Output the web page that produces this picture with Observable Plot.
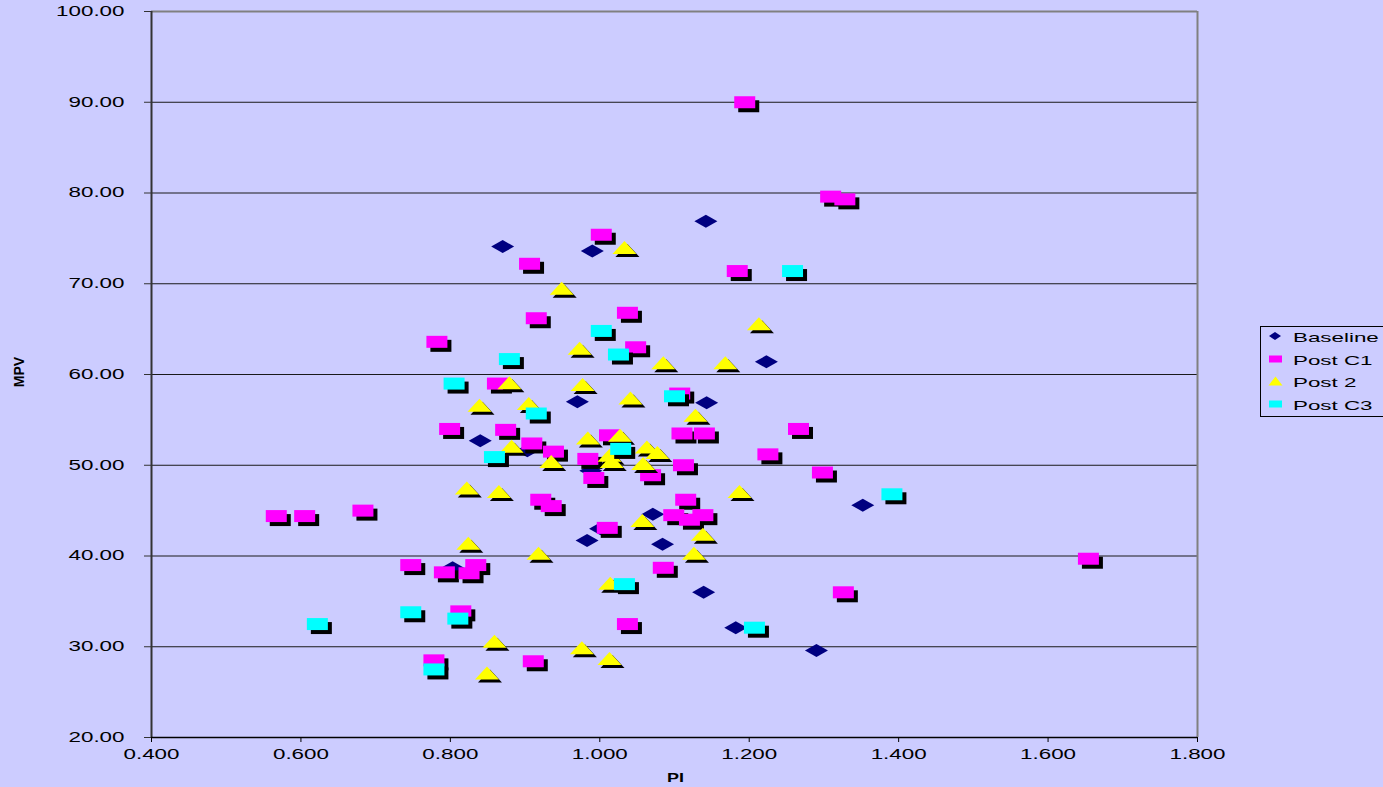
<!DOCTYPE html>
<html>
<head>
<meta charset="utf-8">
<script src="https://cdn.jsdelivr.net/npm/d3@7"></script>
<script src="https://cdn.jsdelivr.net/npm/@observablehq/plot@0.6"></script>
<style>
  html, body { margin: 0; padding: 0; background: #CCCCFF; overflow: hidden; }
  #wrap { position: relative; width: 1383px; height: 787px; font-family: "Liberation Sans", Arial, sans-serif; }
  #legend { position: absolute; left: 1260px; top: 326px; width: 160px; height: 91px; border: 1px solid #000; box-sizing: border-box; background: #CCCCFF; }
  .lrow { position: absolute; left: 0; height: 20px; width: 160px; }
  .lrow svg { position: absolute; left: 7px; top: 2px; }
  .lrow span { position: absolute; left: 32px; top: 1px; font-size: 13px; line-height: 18px; color: #000; transform: scaleX(1.72); transform-origin: left center; white-space: nowrap; }
  .atitle { position: absolute; font-weight: bold; color: #000; white-space: nowrap; }
</style>
</head>
<body>
<div id="wrap">
  <div id="chart"></div>
  <div id="legend"></div>
  <div class="atitle" id="xtitle" style="left:667px; top:771px; font-size:12px; transform:scaleX(1.5); transform-origin:left top;">PI</div>
  <div class="atitle" id="ytitle" style="left:-1px; top:364px; font-size:14px; line-height:16px; transform:rotate(-90deg) scaleY(1.1); transform-origin:center center; width:38px; text-align:center;">MPV</div>
</div>
<script>
// ---- data ----
const seriesNames = ["Baseline", "Post C1", "Post 2", "Post C3"];
const seriesColors = ["#000080", "#FF00FF", "#FFFF00", "#00FFFF"];

const baselinePI  = [0.870, 0.990, 1.142, 1.223, 0.970, 1.143, 0.840, 0.903, 0.988, 1.071, 1.001, 0.983, 1.084, 0.803, 1.139, 1.182, 1.290, 1.352];
const baselineMPV = [74.1, 73.6, 76.9, 61.4, 57.0, 56.9, 52.7, 51.6, 49.4, 44.6, 43.0, 41.7, 41.3, 38.7, 36.0, 32.1, 29.6, 45.6];

const postC1PI  = [1.194, 1.309, 1.328, 1.002, 0.906, 1.184, 0.915, 1.037, 0.782, 1.048, 0.863, 1.107, 0.799, 0.874, 1.013, 1.110, 1.140, 1.266, 0.909, 0.938, 0.984, 1.225, 1.112, 0.992, 1.068, 1.298, 0.921, 0.935, 1.115, 1.099, 1.138, 1.120, 1.010, 0.747, 0.792, 0.834, 0.825, 1.085, 1.326, 0.814, 1.037, 0.778, 0.911, 0.567, 0.605, 0.683, 1.654];
const postC1MPV = [90.0, 79.6, 79.3, 75.4, 72.2, 71.4, 66.2, 66.8, 63.6, 63.0, 59.0, 57.9, 54.0, 53.9, 53.3, 53.5, 53.5, 54.0, 52.4, 51.5, 50.7, 51.2, 50.0, 48.6, 48.9, 49.2, 46.2, 45.5, 46.2, 44.5, 44.5, 44.0, 43.1, 39.0, 38.2, 39.0, 38.1, 38.7, 36.0, 33.9, 32.5, 28.5, 28.4, 44.4, 44.4, 45.0, 39.7];

const post2PI  = [1.033, 0.949, 1.213, 0.973, 1.085, 1.168, 0.879, 0.977, 1.041, 0.839, 0.905, 1.128, 0.984, 1.027, 0.882, 1.063, 1.077, 1.013, 1.016, 0.935, 1.058, 0.822, 0.865, 1.187, 1.057, 1.138, 0.824, 0.918, 1.126, 1.014, 0.859, 0.976, 1.013, 0.849];
const post2MPV = [74.0, 69.5, 65.6, 62.9, 61.3, 61.3, 59.1, 58.9, 57.4, 56.6, 56.8, 55.5, 53.0, 53.3, 52.1, 52.0, 51.4, 51.1, 50.4, 50.4, 50.2, 47.5, 47.1, 47.1, 43.9, 42.4, 41.4, 40.3, 40.3, 37.0, 30.6, 29.9, 28.7, 27.1];

const postC3PI  = [1.258, 1.002, 1.025, 0.879, 0.805, 1.100, 0.915, 1.028, 0.859, 1.391, 1.033, 0.747, 0.810, 0.778, 1.207, 0.622];
const postC3MPV = [71.4, 64.8, 62.2, 61.7, 59.0, 57.6, 55.7, 51.8, 50.9, 46.8, 36.9, 33.8, 33.1, 27.5, 32.1, 32.5];

const xTicks = [0.4, 0.6, 0.8, 1.0, 1.2, 1.4, 1.6, 1.8];
const yTicks = [20, 30, 40, 50, 60, 70, 80, 90, 100];

// ---- build tables ----
const toRows = (xs, ys) => xs.map((x, i) => ({pi: x, mpv: ys[i]}));
const baseline = toRows(baselinePI, baselineMPV);
const postC1 = toRows(postC1PI, postC1MPV);
const post2 = toRows(post2PI, post2MPV);
const postC3 = toRows(postC3PI, postC3MPV);

// ---- marker shapes ----
const diamondSym = {draw(c) { c.moveTo(0, -6.5); c.lineTo(11.5, 0); c.lineTo(0, 6.5); c.lineTo(-11.5, 0); c.closePath(); }};
const rectSym = {draw(c) { c.moveTo(-10.5, -6); c.lineTo(10.5, -6); c.lineTo(10.5, 6); c.lineTo(-10.5, 6); c.closePath(); }};
const triSym = {draw(c) { c.moveTo(0, -6.5); c.lineTo(12, 6.5); c.lineTo(-12, 6.5); c.closePath(); }};

const dotOpts = (sym, fill, dx = 0, dy = 0) => ({x: "pi", y: "mpv", symbol: sym, r: 5, fill, stroke: "none", dx, dy});

const chart = Plot.plot({
  width: 1383,
  height: 787,
  marginLeft: 151,
  marginRight: 186,
  marginTop: 11,
  marginBottom: 50,
  style: {background: "transparent", fontFamily: "'Liberation Sans', Arial, sans-serif", fontSize: "14px", color: "#000", overflow: "visible"},
  x: {domain: [0.4, 1.8], label: null},
  y: {domain: [20, 100], label: null},
  marks: [
    Plot.ruleY(yTicks.filter(d => d > 20 && d < 100), {stroke: "#1a1a1a", strokeWidth: 1}),
    Plot.ruleY([100], {stroke: "#808080", strokeWidth: 2}),
    Plot.ruleX([1.8], {stroke: "#808080", strokeWidth: 2}),
    Plot.axisY(yTicks, {tickFormat: d => d.toFixed(2), tickSize: 7, tickPadding: 20, stroke: "#333", label: null, fill: "#000"}),
    Plot.axisX(xTicks, {tickFormat: d => d.toFixed(3), tickSize: 5, tickPadding: 7, stroke: "#000", label: null, fill: "#000"}),
    Plot.ruleX([0.4], {stroke: "#333", strokeWidth: 2}),
    Plot.ruleY([20], {stroke: "#000", strokeWidth: 1.5}),
    // Baseline (no shadow)
    Plot.dot(baseline, dotOpts(diamondSym, seriesColors[0])),
    // Post C1
    Plot.dot(postC1, dotOpts(rectSym, "#000", 4, 4)),
    Plot.dot(postC1, dotOpts(rectSym, seriesColors[1])),
    // Post 2
    Plot.dot(post2, dotOpts(triSym, "#000", 3, 3)),
    Plot.dot(post2, dotOpts(triSym, seriesColors[2])),
    // Post C3
    Plot.dot(postC3, dotOpts(rectSym, "#000", 4, 4)),
    Plot.dot(postC3, dotOpts(rectSym, seriesColors[3]))
  ]
});
document.getElementById("chart").appendChild(chart);

// stretch tick label text horizontally, as in the reference
chart.querySelectorAll('g[aria-label$="tick label"] text').forEach(t => {
  let tr = t.getAttribute("transform");
  if (tr) {
    t.setAttribute("transform", tr + " scale(1.6,1)");
  } else {
    const x = t.getAttribute("x") || 0, y = t.getAttribute("y") || 0;
    t.removeAttribute("x"); t.removeAttribute("y");
    t.setAttribute("transform", `translate(${x},${y}) scale(1.6,1)`);
  }
});

// ---- legend ----
const legendShapes = [
  '<polygon points="7,2 13,6 7,10 1,6" fill="#000080"/>',
  '<rect x="1" y="2.5" width="13" height="7" fill="#FF00FF"/>',
  '<polygon points="7.5,1.5 14.5,10.5 0.5,10.5" fill="#FFFF00"/>',
  '<rect x="1" y="2.5" width="13" height="7" fill="#00FFFF"/>'
];
const legend = document.getElementById("legend");
seriesNames.forEach((name, i) => {
  const row = document.createElement("div");
  row.className = "lrow";
  row.style.top = (1 + i * 22.7) + "px";
  row.innerHTML = `<svg width="16" height="12">${legendShapes[i]}</svg><span>${name}</span>`;
  legend.appendChild(row);
});
</script>
</body>
</html>
